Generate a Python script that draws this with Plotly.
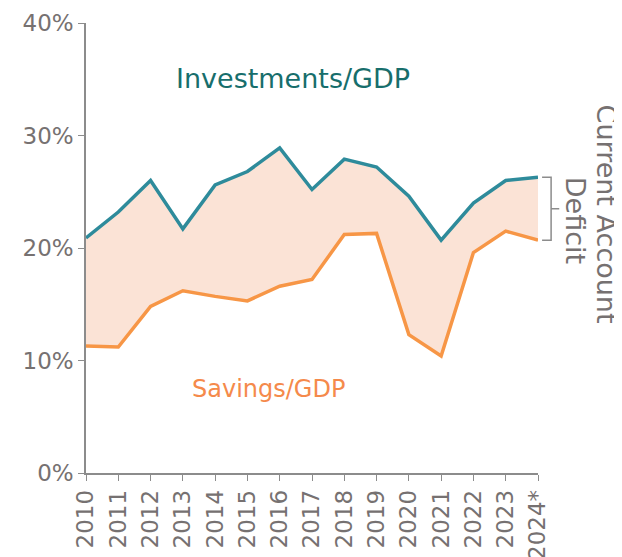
import plotly.graph_objects as go

years = list(range(2010, 2025))
year_labels = [str(y) for y in range(2010, 2024)] + ["2024*"]
investments = [20.9, 23.2, 26.0, 21.7, 25.6, 26.8, 28.9, 25.2, 27.9, 27.2, 24.6, 20.7, 24.0, 26.0, 26.3]
savings = [11.3, 11.2, 14.8, 16.2, 15.7, 15.3, 16.6, 17.2, 21.2, 21.3, 12.3, 10.4, 19.6, 21.5, 20.7]
y_ticks = [0, 10, 20, 30, 40]
y_tick_labels = ["0%", "10%", "20%", "30%", "40%"]

gray = "#767171"
axis_gray = "#8c8c8c"
font = "DejaVu Sans"

fig = go.Figure()
fig.add_trace(go.Scatter(x=years, y=savings, mode="lines",
                         line=dict(color="#F79646", width=3.5), hoverinfo="skip"))
fig.add_trace(go.Scatter(x=years, y=investments, mode="lines", fill="tonexty",
                         fillcolor="#FBE3D6",
                         line=dict(color="#2E8B9B", width=3.5), hoverinfo="skip"))

mid = (investments[-1] + savings[-1]) / 2

fig.update_layout(
    width=614, height=549,
    margin=dict(l=78, r=84, t=15, b=84, autoexpand=False),
    plot_bgcolor="white", paper_bgcolor="white",
    showlegend=False,
    font=dict(family=font, color=gray, size=20),
    xaxis=dict(range=[2010, 2024], tickvals=years, ticktext=year_labels,
               tickangle=-90, showgrid=False, zeroline=False, automargin=False,
               showline=True, linecolor=axis_gray, linewidth=1.5,
               ticks="outside", ticklen=6, tickcolor=axis_gray,
               tickfont=dict(size=23, color=gray, family=font)),
    yaxis=dict(range=[0, 40], tickvals=y_ticks, ticktext=y_tick_labels,
               showgrid=False, zeroline=False, automargin=False,
               showline=True, linecolor=axis_gray, linewidth=1.5,
               ticks="outside", ticklen=6, tickcolor=axis_gray,
               tickfont=dict(size=23, color=gray, family=font)),
    annotations=[
        dict(x=2016.41, y=35.1, xref="x", yref="y", text="Investments/GDP",
             showarrow=False, font=dict(size=27, color="#176E6C", family=font)),
        dict(x=2015.64, y=7.47, xref="x", yref="y", text="Savings/GDP",
             showarrow=False, font=dict(size=24, color="#F58A4B", family=font)),
        dict(x=1.152, y=23.0, xref="paper", yref="y", xanchor="center", yanchor="middle",
             text="Current Account", textangle=90, showarrow=False,
             font=dict(size=27, color=gray, family=font)),
        dict(x=1.082, y=22.5, xref="paper", yref="y", xanchor="center", yanchor="middle",
             text="Deficit", textangle=90, showarrow=False,
             font=dict(size=27, color=gray, family=font)),
    ],
    shapes=[
        dict(type="path", xref="paper", yref="y", layer="above",
             path=f"M 1.009 {investments[-1]} L 1.029 {investments[-1]} L 1.029 {savings[-1]} L 1.009 {savings[-1]} "
                  f"M 1.029 {mid} L 1.047 {mid}",
             line=dict(color=axis_gray, width=1.5)),
    ],
)

fig.write_html("out.html")
